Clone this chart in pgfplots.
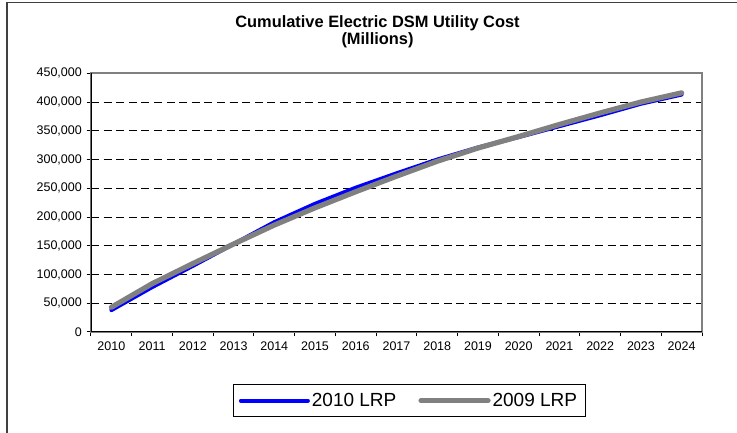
\documentclass[border=0pt]{standalone}
\usepackage{pgfplots}
\pgfplotsset{compat=1.18}
\usepackage{pgfplotstable}
\usepackage{fontspec}
\setmainfont{Liberation Sans}

\definecolor{lrpblue}{RGB}{0,0,255}
\definecolor{lrpgray}{RGB}{128,128,128}
\definecolor{framegray}{RGB}{128,128,128}

% Cumulative electric DSM utility cost (millions), years 2010 (0) to 2024 (14)
\pgfplotstableread{
idx  lrp2010  lrp2009
0    38000    43000
1    78000    84000
2    115000   119000
3    153000   153000
4    191000   186000
5    223000   216000
6    251000   244000
7    276000   271000
8    300000   297000
9    321000   320000
10   339000   340000
11   358000   361000
12   377000   381000
13   397000   400000
14   413000   416000
}\costdata

\begin{document}
\begin{tikzpicture}[x=1pt,y=1pt]
\useasboundingbox (0,0) rectangle (737,433);
\fill[white] (0,0) rectangle (737,433);
% outer chart frame
\draw[black!75, line width=1.1pt] (7,0) -- (7,430.3) -- (737,430.3);
% title
\node[anchor=base, inner sep=0pt, font=\fontsize{16.4}{19}\selectfont\bfseries] at (377.5,405.5) {Cumulative Electric DSM Utility Cost};
\node[anchor=base, inner sep=0pt, font=\fontsize{16.4}{19}\selectfont\bfseries] at (377.5,388.5) {(Millions)};

\begin{axis}[
  at={(91pt,101pt)}, anchor=south west,
  scale only axis, width=611pt, height=258.7pt,
  xmin=-0.5, xmax=14.5, ymin=0, ymax=450000,
  xtick={-0.5,0.5,1.5,2.5,3.5,4.5,5.5,6.5,7.5,8.5,9.5,10.5,11.5,12.5,13.5,14.5},
  x tick label as interval,
  xticklabels={2010,2011,2012,2013,2014,2015,2016,2017,2018,2019,2020,2021,2022,2023,2024},
  ytick={0,50000,100000,150000,200000,250000,300000,350000,400000,450000},
  scaled y ticks=false,
  /pgf/number format/fixed,
  /pgf/number format/1000 sep={,},
  /pgf/number format/assume math mode=true,
  xtick pos=bottom, ytick pos=left,
  tick align=outside, major tick length=4.5pt,
  tick style={black, line width=1pt},
  ticklabel style={font=\fontsize{12.5}{14}\selectfont},
  xticklabel style={inner sep=0pt, yshift=-5pt},
  yticklabel style={inner sep=0pt, xshift=-4.5pt},
  ymajorgrids,
  grid style={black, line width=0.9pt, dash pattern=on 8pt off 4.6pt},
  axis line style={framegray, line width=2pt},
  legend columns=2,
  legend style={at={(0.5205,-0.2656)}, anchor=center, draw=black, line width=0.8pt,
    font=\fontsize{19}{22}\selectfont, inner xsep=6pt, inner ysep=6.5pt,
    /tikz/every even column/.append style={column sep=20pt}},
  legend image code/.code={\draw[#1] (0pt,0pt) -- (67pt,0pt);},
]
\addplot[lrpblue, line width=4pt, line cap=round, line join=round] table[x=idx, y=lrp2010] {\costdata};
\addlegendentry{2010 LRP}
\addplot[lrpgray, line width=5.2pt, line cap=round, line join=round] table[x=idx, y=lrp2009] {\costdata};
\addlegendentry{2009 LRP}
% axis lines drawn darker than the plot-area border
\draw[black, line width=1.6pt] (rel axis cs:0,1) -- (rel axis cs:0,0) -- (rel axis cs:1,0);
\end{axis}
\end{tikzpicture}
\end{document}
